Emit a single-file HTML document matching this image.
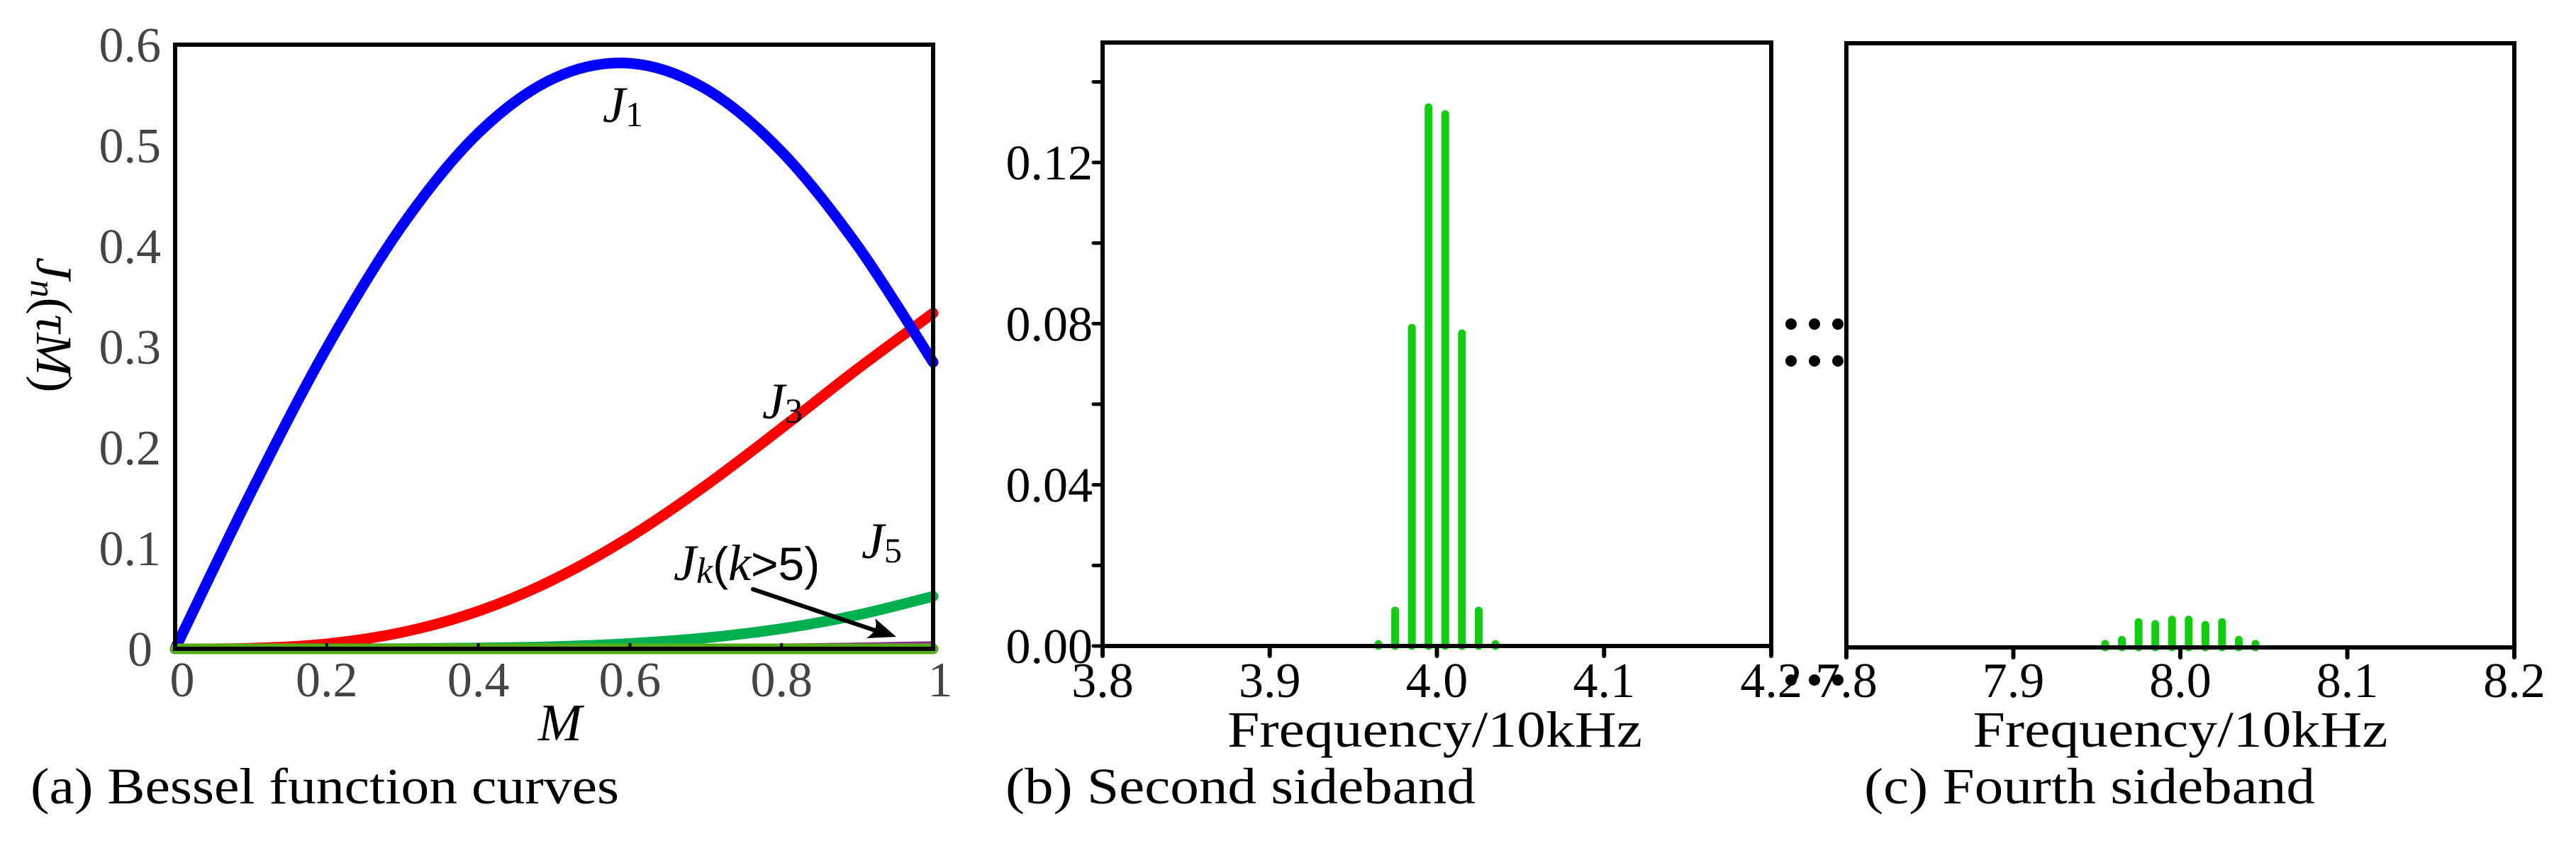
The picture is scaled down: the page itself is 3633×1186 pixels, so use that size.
<!DOCTYPE html>
<html><head><meta charset="utf-8"><style>
html,body{margin:0;padding:0;background:#fff;}
svg{display:block;}
text{font-family:"Liberation Serif",serif;}
</style></head><body>
<svg id="fig" width="3633" height="1186" viewBox="0 0 3633 1186" xmlns="http://www.w3.org/2000/svg">
<g id="pa"></g>
<g id="pb"></g>
<g id="pc"></g>
</svg>
<script>
// Panel A data: J_n(pi*M)
const mVals = [0,0.1,0.2,0.3,0.4,0.5,0.6,0.7,0.8,0.9,1.0];
const j1Vals = [0,0.1552,0.2989,0.4208,0.5122,0.5667,0.5815,0.5561,0.4938,0.4006,0.2846];
const j3Vals = [0,0.0006,0.0050,0.0165,0.0374,0.0691,0.1112,0.1622,0.2191,0.2778,0.3334];
const j5Vals = [0,0.0000,0.0000,0.0002,0.0008,0.0022,0.0053,0.0109,0.0200,0.0336,0.0521];
const j0Vals = [0,0,0,0,0,0,0,0,0,0,0];
const mkM = [0.77,0.85,0.92,1.0];
const mkVals = [0.0030,0.0036,0.0044,0.0055];
const aXTicks = [0,0.2,0.4,0.6,0.8,1];
const aXTickLabels = ["0","0.2","0.4","0.6","0.8","1"];
const aYTicks = [0,0.1,0.2,0.3,0.4,0.5,0.6];
const aYTickLabels = ["0","0.1","0.2","0.3","0.4","0.5","0.6"];
// Panel B data
const bFreqs = [3.965,3.975,3.985,3.995,4.005,4.015,4.025,4.035];
const bAmps = [0.0005,0.0088,0.079,0.1337,0.132,0.0776,0.0088,0.0005];
const bXTicks = [3.8,3.9,4.0,4.1,4.2];
const bXTickLabels = ["3.8","3.9","4.0","4.1","4.2"];
const bYTicks = [0,0.04,0.08,0.12];
const bYTickLabels = ["0.00","0.04","0.08","0.12"];
const bYMinor = [0.02,0.06,0.10,0.14];
// Panel C data
const cFreqs = [7.955,7.965,7.975,7.985,7.995,8.005,8.015,8.025,8.035,8.045];
const cAmps = [0.0009,0.0019,0.0063,0.0058,0.0069,0.0069,0.0056,0.0063,0.0019,0.0009];
const cXTicks = [7.8,7.9,8.0,8.1,8.2];
const cXTickLabels = ["7.8","7.9","8.0","8.1","8.2"];

const NS="http://www.w3.org/2000/svg";
function mk(tag,parent,attrs){const e=document.createElementNS(NS,tag);for(const k in attrs)e.setAttribute(k,attrs[k]);parent.appendChild(e);return e;}

// ---------- Panel A ----------
const pa=document.getElementById('pa');
const aL=247,aR=1316,aT=63,aB=915;
const ax=m=>aL+(m-0)/(1-0)*(aR-aL);
const ay=v=>aB-(v/0.6)*(aB-aT);
function smoothPath(xs,ys){
  const P=xs.map((x,i)=>[ax(x),ay(ys[i])]);
  let d=`M${P[0][0]},${P[0][1]}`;
  for(let i=0;i<P.length-1;i++){
    const p0=P[i-1]||P[i],p1=P[i],p2=P[i+1],p3=P[i+2]||P[i+1];
    const c1=[p1[0]+(p2[0]-p0[0])/6,p1[1]+(p2[1]-p0[1])/6];
    const c2=[p2[0]-(p3[0]-p1[0])/6,p2[1]-(p3[1]-p1[1])/6];
    d+=` C${c1[0]},${c1[1]} ${c2[0]},${c2[1]} ${p2[0]},${p2[1]}`;
  }
  return d;
}
let e;
const series=[[j5Vals,'#00b04f','j5-curve'],[j3Vals,'#ff0000','j3-curve'],[j1Vals,'#0000ff','j1-curve']];
for(const s of series){
  e=mk('path',pa,{d:smoothPath(mVals,s[0]),fill:'none',stroke:s[1],'stroke-width':15,'stroke-linecap':'round'});
  
  
}
e=mk('path',pa,{d:smoothPath(mkM,mkVals),fill:'none',stroke:'#8a2d8e','stroke-width':6});


e=mk('path',pa,{d:smoothPath(mVals,j0Vals),fill:'none',stroke:'#56ac18','stroke-width':15,'stroke-linecap':'round'});


// frame
e=mk('rect',pa,{x:aL,y:aT,width:aR-aL,height:aB-aT,fill:'none',stroke:'#000','stroke-width':6});


aXTicks.forEach((t,i)=>{
  const l=mk('line',pa,{x1:ax(t),x2:ax(t),y1:aB,y2:aB-8,stroke:'#000','stroke-width':4});
  
  
  const tx=mk('text',pa,{x:ax(t)+(i==0?10:(i==5?10:0)),y:982,'font-size':70,fill:'#444','text-anchor':'middle'});
  tx.textContent=aXTickLabels[i];
  
  
});
aYTicks.forEach((t,i)=>{
  const tx=mk('text',pa,{x:i==0?215:227,y:ay(t)+24,'font-size':70,fill:'#444','text-anchor':'end'});
  tx.textContent=aYTickLabels[i];
  
  
});
// annotations
function lab(parent,x,y,sub,name){
  const t=mk('text',parent,{x:x,y:y,'font-size':72,fill:'#000'});
  t.innerHTML=`<tspan font-style="italic">J</tspan><tspan font-size="50" dy="6">${sub}</tspan>`;
  
  
}
lab(pa,850,172,'1','j1-label');
lab(pa,1075,590,'3','j3-label');
lab(pa,1215,787,'5','j5-label');
e=mk('text',pa,{x:950,y:818,'font-size':72,fill:'#000'});
e.innerHTML='<tspan font-style="italic">J</tspan><tspan font-style="italic" font-size="52" dy="4">k</tspan><tspan dy="-4" font-family="Liberation Sans, sans-serif" font-size="66">(</tspan><tspan font-style="italic">k</tspan><tspan font-family="Liberation Sans, sans-serif" font-size="66">&gt;5)</tspan>';


e=mk('line',pa,{x1:1062,y1:831,x2:1240,y2:891,stroke:'#000','stroke-width':6,'stroke-linecap':'round'});


e=mk('path',pa,{d:'M1264,898 L1222,900 Q1240,888 1234,872 Z',fill:'#000'});


e=mk('text',pa,{x:0,y:0,'font-size':72,fill:'#000',transform:'translate(52,458) rotate(90)','text-anchor':'middle'});
e.innerHTML='<tspan font-style="italic">J</tspan><tspan font-style="italic" font-size="50" dy="8">n</tspan><tspan dy="-8">(</tspan><tspan font-style="italic">τM</tspan>)';


e=mk('text',pa,{x:790,y:1044,'font-size':74,'font-style':'italic','text-anchor':'middle',fill:'#000'});
e.textContent='M';


e=mk('text',pa,{x:43,y:1133,'font-size':72,fill:'#000',textLength:830,lengthAdjust:'spacingAndGlyphs'});
e.textContent='(a) Bessel function curves';



// ---------- Panel B & C ----------
function spectrum(g,L,R,T,B,x0,x1,freqs,amps,xt,xtl,hasY,pre){
  const sx=f=>L+(f-x0)/(x1-x0)*(R-L);
  const sy=v=>B-v/0.04*227.3;
  freqs.forEach((f,i)=>{
    const b=mk('line',g,{x1:sx(f),x2:sx(f),y1:B,y2:sy(amps[i]),stroke:'#11cc11','stroke-width':11,'stroke-linecap':'round'});
    
    
  });
  const fr=mk('rect',g,{x:L,y:T,width:R-L,height:B-T,fill:'none',stroke:'#000','stroke-width':6});
  
  
  xt.forEach((t,i)=>{
    const l=mk('line',g,{x1:sx(t),x2:sx(t),y1:B,y2:B+14,stroke:'#000','stroke-width':6,'stroke-linecap':'round'});
    
    
    const tx=mk('text',g,{x:sx(t),y:983,'font-size':70,fill:'#000','text-anchor':'middle'});
    tx.textContent=xtl[i];
    
    
  });
  if(hasY){
    bYTicks.forEach((t,i)=>{
      const l=mk('line',g,{x1:L,x2:L-13,y1:sy(t),y2:sy(t),stroke:'#000','stroke-width':5,'stroke-linecap':'round'});
      
      
      const tx=mk('text',g,{x:L-14,y:sy(t)+24,'font-size':70,fill:'#000','text-anchor':'end'});
      tx.textContent=bYTickLabels[i];
      
      
    });
    bYMinor.forEach(t=>{
      const l=mk('line',g,{x1:L,x2:L-13,y1:sy(t),y2:sy(t),stroke:'#000','stroke-width':5,'stroke-linecap':'round'});
      
      
    });
  }
  const xt2=mk('text',g,{x:(L+R)/2+ (pre=='b'?-3:0),y:1053,'font-size':72,fill:'#000','text-anchor':'middle',textLength:585,lengthAdjust:'spacingAndGlyphs'});
  xt2.textContent='Frequency/10kHz';
  
  
}
const pb=document.getElementById('pb'), pc=document.getElementById('pc');
spectrum(pb,1555,2498,60,911,3.8,4.2,bFreqs,bAmps,bXTicks,bXTickLabels,true,'b');
spectrum(pc,2604,3546,61,913,7.8,8.2,cFreqs,cAmps,cXTicks,cXTickLabels,false,'c');
e=mk('text',pb,{x:1418,y:1133,'font-size':72,fill:'#000',textLength:663,lengthAdjust:'spacingAndGlyphs'});
e.textContent='(b) Second sideband';


e=mk('text',pc,{x:2629,y:1133,'font-size':72,fill:'#000',textLength:636,lengthAdjust:'spacingAndGlyphs'});
e.textContent='(c) Fourth sideband';


// ellipsis dots
const fig=document.getElementById('fig');
[457,509,959].forEach(y=>{[2526,2559,2592].forEach(x=>{
  const d=mk('circle',fig,{cx:x,cy:y,r:8,fill:'#000'});
  
  
});});
</script>
</body></html>
